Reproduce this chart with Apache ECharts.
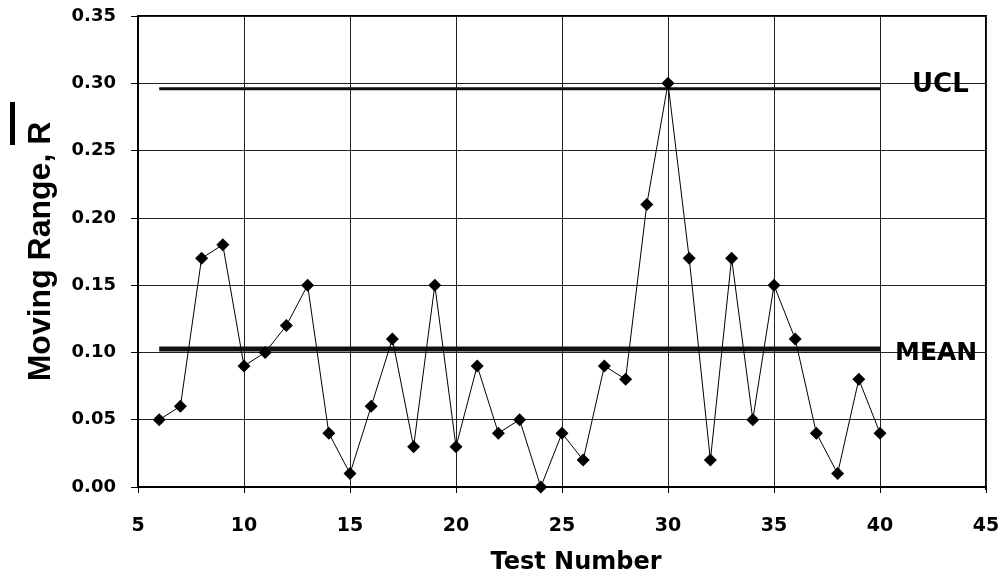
<!DOCTYPE html>
<html><head><meta charset="utf-8">
<script src="https://cdn.jsdelivr.net/npm/echarts@6/dist/echarts.min.js"></script>
<style>html,body{margin:0;padding:0;background:#fff}#c{width:1003px;height:580px}</style>
</head><body><div id="c"></div>
<script>
const testNumbers = [6,7,8,9,10,11,12,13,14,15,16,17,18,19,20,21,22,23,24,25,26,27,28,29,30,31,32,33,34,35,36,37,38,39,40];
const movingRange = [0.05,0.06,0.17,0.18,0.09,0.10,0.12,0.15,0.04,0.01,0.06,0.11,0.03,0.15,0.03,0.09,0.04,0.05,0.00,0.04,0.02,0.09,0.08,0.21,0.30,0.17,0.02,0.17,0.05,0.15,0.11,0.04,0.01,0.08,0.04];
const uclValue = 0.296;
const meanValue = 0.1025;
const limitRange = [6, 40];

const chart = echarts.init(document.getElementById('c'));
const wide = '"DejaVu Sans", sans-serif';
const narrow = '"Liberation Sans", Arial, sans-serif';
chart.setOption({
  animation: false,
  backgroundColor: '#fff',
  grid: {left: 138, right: 17, top: 16, bottom: 91, containLabel: false},
  xAxis: {
    type: 'value', min: 5, max: 45, interval: 5,
    name: 'Test Number', nameLocation: 'middle', nameGap: 64,
    nameTextStyle: {fontFamily: wide, fontWeight: 'bold', fontSize: 24, color: '#000', padding: [0, 0, 0, 28]},
    axisLine: {show: true, onZero: false, lineStyle: {color: '#000', width: 2}},
    axisTick: {show: true, length: 6, lineStyle: {color: '#000'}},
    axisLabel: {fontFamily: wide, fontWeight: 'bold', fontSize: 19, color: '#000', margin: 30},
    splitLine: {show: true, lineStyle: {color: '#222', width: 1}}
  },
  yAxis: {
    type: 'value', min: 0, max: 0.35, interval: 0.05,
    name: 'Moving Range, R', nameLocation: 'middle', nameGap: 81,
    nameTextStyle: {fontFamily: narrow, fontWeight: 'bold', fontSize: 32, color: '#000'},
    axisLine: {show: true, lineStyle: {color: '#000', width: 2}},
    axisTick: {show: true, length: 7, lineStyle: {color: '#000'}},
    axisLabel: {fontFamily: wide, fontWeight: 'bold', fontSize: 18, color: '#000', margin: 22,
      formatter: v => v.toFixed(2)},
    splitLine: {show: true, lineStyle: {color: '#222', width: 1}}
  },
  graphic: [
    {type: 'rect', left: 10, top: 102, shape: {width: 5, height: 43}, style: {fill: '#000'}},
    {type: 'rect', left: 985, top: 15, shape: {width: 2, height: 475}, style: {fill: '#000'}},
    {type: 'rect', left: 137, top: 15, shape: {width: 849, height: 2}, style: {fill: '#000'}}
  ],
  series: [
    {
      type: 'line', silent: true,
      data: limitRange.map(x => [x, uclValue]),
      symbol: 'none', lineStyle: {color: '#111', width: 3},
      endLabel: {show: true, formatter: 'UCL', fontFamily: wide, fontWeight: 'bold', fontSize: 26, color: '#000', offset: [24, -3]}
    },
    {
      type: 'line', silent: true,
      data: limitRange.map(x => [x, meanValue]),
      symbol: 'none', lineStyle: {color: '#111', width: 5},
      endLabel: {show: true, formatter: 'MEAN', fontFamily: wide, fontWeight: 'bold', fontSize: 25, color: '#000', offset: [7, 4]}
    },
    {
      type: 'line',
      data: testNumbers.map((x, i) => [x, movingRange[i]]),
      symbol: 'diamond', symbolSize: 13,
      itemStyle: {color: '#000'},
      lineStyle: {color: '#000', width: 1}
    }
  ]
});
</script></body></html>
